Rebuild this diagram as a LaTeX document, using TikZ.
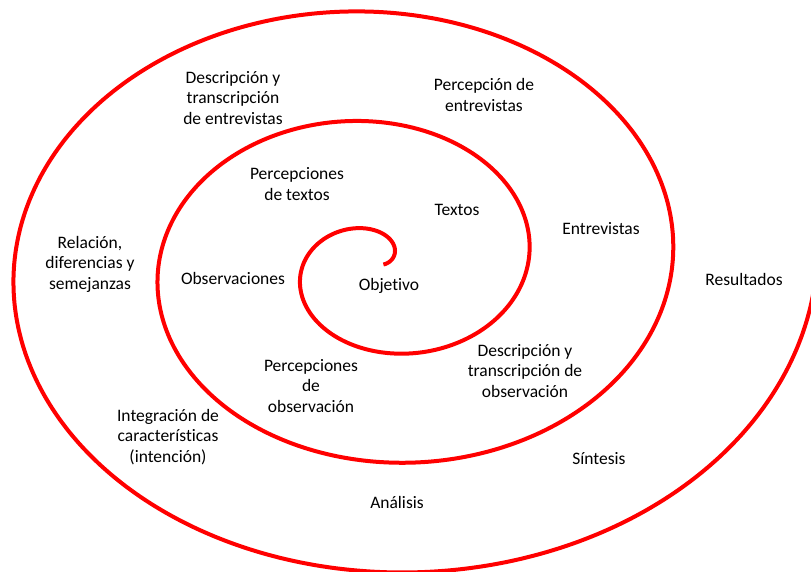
\documentclass[tikz,border=0pt]{standalone}
\usepackage{fontspec}
\setmainfont{Carlito}[Ligatures=NoCommon]

\begin{document}
\begin{tikzpicture}[x=1pt, y=-1pt,
    etiqueta/.style={align=center, inner sep=0pt, font=\fontsize{17.5}{20.5}\selectfont}]
    \useasboundingbox (0, 0) rectangle (811, 571);
    \begin{scope}
      \clip (0, 0) rectangle (811, 571);
      % espiral
      \def\cx{379.4}
      \def\cy{264.5}
      \draw[red, line width=4pt, domain=0:3, smooth, samples=400] plot ({\cx + (4 + 144.5*\x) * cos(360*\x)}, {\cy - (5 + 110*\x) * sin(360*\x)});
    \end{scope}

    \node[etiqueta] (objetivo) at (389, 286) {Objetivo};
    \node[etiqueta] (textos) at (457, 210) {Textos};
    \node[etiqueta] (perctextos) at (297, 184) {Percepciones\\de textos};
    \node[etiqueta] (observaciones) at (233, 278) {Observaciones};
    \node[etiqueta] (percobs) at (311, 386) {Percepciones\\de\\observación};
    \node[etiqueta] (descobs) at (525, 371) {Descripción y\\transcripción de\\observación};
    \node[etiqueta] (entrevistas) at (601, 229) {Entrevistas};
    \node[etiqueta] (percentr) at (484, 95) {Percepción de\\entrevistas};
    \node[etiqueta] (descentr) at (233, 98) {Descripción y\\transcripción\\de entrevistas};
    \node[etiqueta] (relacion) at (90, 264) {Relación,\\diferencias y\\semejanzas};
    \node[etiqueta] (integracion) at (168, 437) {Integración de\\características\\(intención)};
    \node[etiqueta] (analisis) at (397, 502) {Análisis};
    \node[etiqueta] (sintesis) at (599, 459) {Síntesis};
    \node[etiqueta] (resultados) at (744, 279) {Resultados};
  \end{tikzpicture}
\end{document}
